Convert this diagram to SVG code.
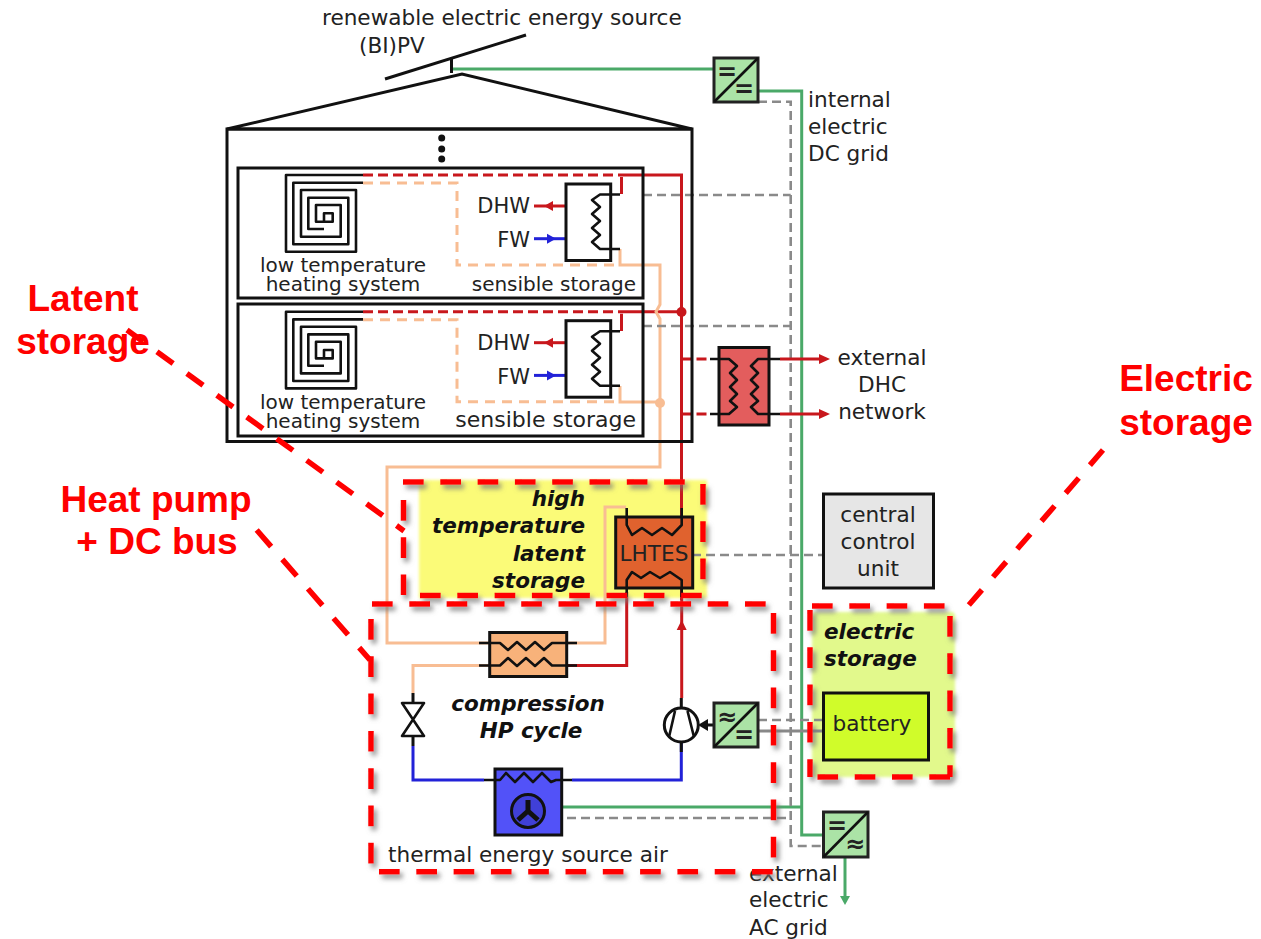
<svg xmlns="http://www.w3.org/2000/svg" xmlns:xlink="http://www.w3.org/1999/xlink" width="1261" height="939" viewBox="0 0 1261 939">
<style>
text{font-family:"DejaVu Sans",sans-serif;fill:#222;font-size:21.6px}
.bi{font-weight:bold;font-style:oblique;fill:#111;font-size:21.5px}
.sym{font-weight:bold;font-size:24px;fill:#222;text-anchor:middle}
.call{font-family:"Liberation Sans",Arial,sans-serif;font-weight:bold;font-size:37px;fill:#f00;text-anchor:middle}
.k{fill:none;stroke:#111;stroke-width:3}
.k2{fill:none;stroke:#111;stroke-width:2.6;stroke-linejoin:round}
.red{fill:none;stroke:#c8171c;stroke-width:3}
.redd{fill:none;stroke:#c8171c;stroke-width:3;stroke-dasharray:10 5}
.pe{fill:none;stroke:#f8bd93;stroke-width:3}
.ped{fill:none;stroke:#f8bd93;stroke-width:3;stroke-dasharray:10 7}
.gr{fill:none;stroke:#4aa968;stroke-width:3}
.gy{fill:none;stroke:#8a8a8a;stroke-width:2.6;stroke-dasharray:9 5}
.bl{fill:none;stroke:#2222d8;stroke-width:3}
.box{stroke:#111;stroke-width:3}
.conv{fill:#abe3a6;stroke:#222;stroke-width:3}
.rd{filter:url(#sh)}
.rd path{fill:none;stroke:#f00;stroke-width:5.5;stroke-dasharray:20.7 16.6}
.cd{fill:none;stroke:#f00;stroke-width:5.5;stroke-dasharray:20 17}
</style>
<defs>
<filter id="sh" x="-10%" y="-10%" width="125%" height="125%"><feDropShadow dx="3" dy="4" stdDeviation="2.5" flood-color="#777" flood-opacity=".8"/></filter>
<filter id="soft" x="-10%" y="-10%" width="120%" height="120%"><feGaussianBlur stdDeviation="1.5"/></filter>
<g id="floorArt">
<path class="k2" d="M363,175H286V251.7H356V190H301V236.7H340.7V205H316V221.7H332.7V213.3H324V221.7"/>
<path class="k2" d="M363,182.7H293.3V244.3H348.3V197.7H308.3V229H324"/>
<path class="redd" d="M363,175H620"/>
<path class="ped" d="M363,183H457V265H620"/>
<path class="red" d="M566,206H534"/>
<path d="M544,206l9,-5v10z" fill="#c8171c"/>
<path class="bl" d="M534,238.7H566"/>
<path d="M556,238.7l-9,-5v10z" fill="#2222d8"/>
<rect x="566" y="184" width="44.7" height="76.5" fill="#fff" class="box"/>
<path class="k2" d="M620,194.5H600L592,200L600,207L592,214L600,221L592,228L600,235L592,242L600,249H620"/>
<text x="530" y="213" text-anchor="end" style="font-size:21px">DHW</text>
<text x="530" y="247" text-anchor="end" style="font-size:21px">FW</text>
<text x="343" y="272" text-anchor="middle" style="font-size:20px">low temperature</text>
<text x="343" y="291" text-anchor="middle" style="font-size:20px">heating system</text>
</g>
</defs>

<rect width="1261" height="939" fill="#fff"/>

<g id="high-temperature-latent-storage-bg"><rect x="419" y="480" width="288" height="118" fill="#fbfb78" filter="url(#soft)"/></g>
<g id="electric-storage-bg"><rect x="812" y="612" width="143" height="165" rx="4" fill="#e2f98c" filter="url(#soft)"/></g>

<g id="connectors">
<path class="red" d="M620,175H681.5V600"/>
<path class="red" d="M621.5,177V194"/>
<path class="red" d="M620,311.7H681.5"/>
<path class="red" d="M621.5,313.7V331"/>
<circle cx="681.5" cy="312" r="5" fill="#c8171c"/>
<path class="pe" d="M620,249V265H660V304.5L656,311.7L660,319V467H387V643H490"/>
<path class="pe" d="M620,386V402H660"/>
<circle cx="660" cy="403" r="5" fill="#f8bd93"/>
<path class="pe" d="M566,643H605V507H626"/>
<path class="pe" d="M490,665.5H413V693"/>
<path class="red" d="M566,665.5H626.7V592"/>
<path class="red" d="M681.7,592V698"/>
<path d="M681.7,620l5,10h-10z" fill="#c8171c"/>
<path class="bl" d="M413,746V780H484"/>
<path class="bl" d="M572,780H681.3V742"/>
<path class="gr" d="M452,69H714"/>
<path class="gr" d="M758,91H801.7V835H824"/>
<path class="gr" d="M553,807H801.7"/>
<path class="gr" d="M845,857V898"/>
<path d="M845,905l-5,-9h10z" fill="#4aa968"/>
<path class="gy" d="M758,101.7H790.7V846H824"/>
<path class="gy" d="M643,195H790.7"/>
<path class="gy" d="M643,326H790.7"/>
<path class="gy" d="M553,818H790.7"/>
<path class="gy" d="M692,555H823"/>
<path class="gy" d="M758,720H823"/>
<path d="M758,731H823" fill="none" stroke="#888" stroke-width="3"/>
<path class="redd" d="M681.5,359H710"/>
<path class="redd" d="M681.5,414H710"/>
<path class="red" d="M780,359H822"/>
<path class="red" d="M780,414H822"/>
<path d="M830,359l-11,-5v10z" fill="#c8171c"/>
<path d="M830,414l-11,-5v10z" fill="#c8171c"/>
<path d="M713,725H702" stroke="#111" stroke-width="3" fill="none"/>
<path d="M698,725l10,-6v12z" fill="#111"/>
</g>

<g id="pv">
<path class="k" d="M385,79L526,35"/>
<path class="k" d="M451.5,58V73"/>
<text x="322" y="25">renewable electric energy source</text>
<text x="359" y="53">(BI)PV</text>
</g>

<g id="house">
<path class="k" d="M227,129L462,74L692,129Z"/>
<rect x="227" y="129" width="465" height="312.5" class="k"/>
<rect x="238" y="168" width="405" height="130" class="k"/>
<rect x="238" y="304" width="405" height="132" class="k"/>
<circle cx="441.7" cy="138" r="3.5" fill="#111"/>
<circle cx="441.7" cy="149" r="3.5" fill="#111"/>
<circle cx="441.7" cy="159" r="3.5" fill="#111"/>
</g>

<g id="floor-1"><use xlink:href="#floorArt" href="#floorArt"/><text x="636" y="291" text-anchor="end" style="font-size:20px">sensible storage</text></g>
<g id="floor-2"><use xlink:href="#floorArt" href="#floorArt" transform="translate(0,136.7)"/><text x="636" y="427" text-anchor="end" style="font-size:22px">sensible storage</text></g>

<g id="lhtes">
<rect x="615.7" y="517" width="77" height="71" fill="#e0622e" class="box"/>
<path class="k2" d="M626.7,508V525L632,535L642,528L652,535L662,528L672,535L681.7,525V508"/>
<path class="k2" d="M626.7,597V580L632,572L641,578L650,572L660,578L670,572L681.7,580V597"/>
<text x="654" y="561" text-anchor="middle">LHTES</text>
<text x="585" y="506" text-anchor="end" class="bi">high</text>
<text x="585" y="533" text-anchor="end" class="bi">temperature</text>
<text x="585" y="561" text-anchor="end" class="bi">latent</text>
<text x="585" y="588" text-anchor="end" class="bi">storage</text>
</g>

<g id="condenser">
<rect x="489.7" y="632.5" width="77" height="44" fill="#f8b27a" class="box"/>
<path class="k2" d="M479,643H500L508,650L517,642L526,650L535,642L544,650L552,643H577"/>
<path class="k2" d="M479,665.5H500L508,658L517,666L526,658L535,666L544,658L552,665.5H577"/>
</g>

<g id="valve">
<path class="k" d="M413,693V703M413,736V746"/>
<path class="k2" d="M402,703H424L402,736H424Z" fill="#fff"/>
</g>

<g id="compressor">
<path class="k" d="M681.3,698V708M681.3,742V752"/>
<circle cx="681.3" cy="725" r="17" fill="#fff" class="k"/>
<path class="k2" d="M675,711L669,737M687.5,711L694,737"/>
</g>

<g id="evaporator">
<rect x="495" y="769" width="66.7" height="66" fill="#5252f8" class="box"/>
<path class="k2" d="M484,780H500L506,773L515,782L524,773L533,782L542,773L551,782L556,780H572"/>
<circle cx="528" cy="811" r="16.5" fill="#4040d8" stroke="#111" stroke-width="3"/>
<path d="M528,811V800M528,811L518,820M528,811L538,820" stroke="#111" stroke-width="5" fill="none"/>
<text x="388" y="862">thermal energy source air</text>
</g>
<text class="bi" x="528" y="711" text-anchor="middle">compression</text>
<text class="bi" x="531" y="738" text-anchor="middle">HP cycle</text>

<g id="dhc">
<rect x="719" y="347.5" width="50" height="77.5" fill="#e35d5d" class="box"/>
<path class="k2" d="M710,359H729L737,366L730,373L737,380L730,387L737,394L730,401L737,407L729,414H710"/>
<path class="k2" d="M780,359H758L751,366L758,373L751,380L758,387L751,394L758,401L751,407L758,414H780"/>
<text x="882" y="365" text-anchor="middle">external</text>
<text x="882" y="392" text-anchor="middle">DHC</text>
<text x="882" y="419" text-anchor="middle">network</text>
</g>

<g id="converter-pv">
<rect x="714" y="58" width="44" height="44" class="conv"/>
<path class="k2" d="M714,102L758,58"/>
<text class="sym" x="727" y="80">=</text><text class="sym" x="744" y="97">=</text>
</g>
<g id="converter-hp">
<rect x="714" y="703" width="44" height="44" class="conv"/>
<path class="k2" d="M714,747L758,703"/>
<text class="sym" x="727" y="725">≈</text><text class="sym" x="744" y="743">=</text>
</g>
<g id="converter-ac">
<rect x="823.5" y="812" width="44.5" height="45" class="conv"/>
<path class="k2" d="M823.5,857L868,812"/>
<text class="sym" x="837" y="834">=</text><text class="sym" x="855" y="852">≈</text>
</g>

<g id="internal-label">
<text x="808" y="107">internal</text>
<text x="808" y="134">electric</text>
<text x="808" y="161">DC grid</text>
</g>

<g id="central-control">
<rect x="823.5" y="494" width="110" height="94" fill="#e6e6e6" class="box"/>
<text x="878" y="522" text-anchor="middle">central</text>
<text x="878" y="549" text-anchor="middle">control</text>
<text x="878" y="576" text-anchor="middle">unit</text>
</g>

<g id="battery">
<text class="bi" x="824" y="639">electric</text>
<text class="bi" x="824" y="666">storage</text>
<rect x="823.5" y="693" width="105" height="67" fill="#d0fc2a" class="box"/>
<text x="872" y="731" text-anchor="middle">battery</text>
</g>

<g id="ac-label">
<text x="749" y="881">external</text>
<text x="749" y="907">electric</text>
<text x="749" y="935">AC grid</text>
</g>

<g id="annotations">
<g class="rd"><path d="M403,482H701"/><path d="M703,484V595"/><path d="M420,595.5H703"/><path d="M403.5,500V595"/></g>
<g class="rd"><path d="M372,604H772"/><path d="M773.5,613V869"/><path d="M379,871.7H775"/><path d="M371,619V866"/></g>
<g class="rd"><path d="M812,606H950"/><path d="M950,616V777"/><path d="M950,777H812"/><path d="M810,610V777"/></g>
<path class="cd" d="M127,330L404,531"/>
<path class="cd" d="M256.7,530L370,660" style="stroke-dasharray:22 17"/>
<path class="cd" d="M1103,450L968,606"/>
<text class="call" x="83" y="311">Latent</text>
<text class="call" x="83" y="354">storage</text>
<text class="call" x="156" y="512">Heat pump</text>
<text class="call" x="157" y="554">+ DC bus</text>
<text class="call" x="1186" y="391">Electric</text>
<text class="call" x="1186" y="435">storage</text>
</g>
</svg>
